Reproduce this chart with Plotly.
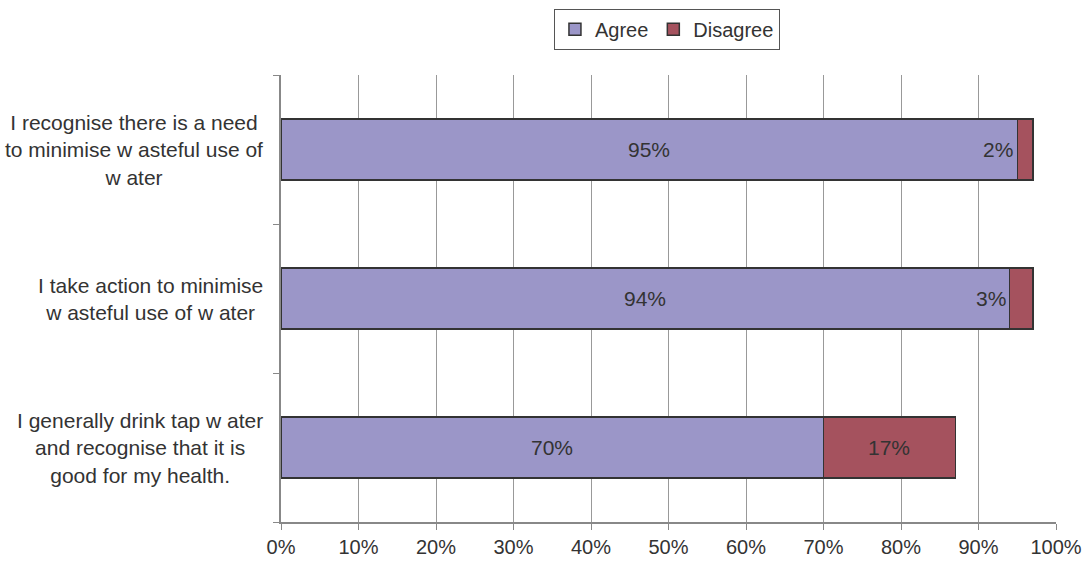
import plotly.graph_objects as go

# Survey statements (top to bottom) and response shares in percent
statements = [
    "I recognise there is a need<br>to minimise w asteful use of<br>w ater",
    "I take action to minimise<br>w asteful use of w ater",
    "I generally drink tap w ater<br>and recognise that it is<br>good for my health.",
]
agree = [95, 94, 70]
disagree = [2, 3, 17]
x_ticks = [0, 10, 20, 30, 40, 50, 60, 70, 80, 90, 100]
x_tick_labels = [f"{v}%" for v in x_ticks]

AGREE_COLOR = "#9B96C8"
DISAGREE_COLOR = "#A5525E"
EDGE = "#333333"
FONT = "Liberation Sans, Arial, sans-serif"
TEXT_COLOR = "#333333"

pos = list(range(len(statements)))

fig = go.Figure()
fig.add_trace(go.Bar(
    name="Agree", y=pos, x=agree, orientation="h", width=0.41,
    marker=dict(color=AGREE_COLOR, line=dict(color=EDGE, width=1.5)),
))
fig.add_trace(go.Bar(
    name="Disagree", y=pos, x=disagree, orientation="h", width=0.41,
    marker=dict(color=DISAGREE_COLOR, line=dict(color=EDGE, width=1.5)),
))

label_font = dict(size=21, color=TEXT_COLOR, family=FONT)

# Value labels centred in each segment; narrow ones sit just left of it
for i, (a, d) in enumerate(zip(agree, disagree)):
    fig.add_annotation(x=a / 2, y=i, text=f"{a}%", showarrow=False, font=label_font)
    if d >= 8:
        fig.add_annotation(x=a + d / 2, y=i, text=f"{d}%", showarrow=False,
                           font=label_font)
    else:
        fig.add_annotation(x=a, y=i, text=f"{d}%", showarrow=False,
                           xanchor="right", xshift=-2, font=label_font)

# Category labels, centred per line, right-aligned to the axis
for i, s in enumerate(statements):
    fig.add_annotation(x=-0.021, xref="paper", y=i, yref="y", text=s,
                       showarrow=False, xanchor="right", align="center",
                       font=dict(size=21, color=TEXT_COLOR, family=FONT))

fig.update_layout(
    barmode="stack",
    width=1092, height=563,
    margin=dict(l=281, r=36, t=75, b=41, autoexpand=False),
    paper_bgcolor="white", plot_bgcolor="white",
    font=dict(family=FONT, size=20, color=TEXT_COLOR),
    legend=dict(
        orientation="h", traceorder="normal",
        x=0.498, xanchor="center", y=1.148, yanchor="top",
        bordercolor="#555555", borderwidth=1,
        font=dict(size=20, color=TEXT_COLOR, family=FONT),
        itemwidth=30,
    ),
    xaxis=dict(
        range=[0, 100], tickvals=x_ticks, ticktext=x_tick_labels,
        showgrid=True, gridcolor="#999999", gridwidth=1,
        showline=True, linecolor="#888888", linewidth=1.5,
        ticks="outside", ticklen=6, tickcolor="#888888",
        zeroline=False, fixedrange=True, automargin=False,
        tickfont=dict(size=20, color=TEXT_COLOR),
    ),
    yaxis=dict(
        range=[2.5, -0.5], tickvals=[-0.5, 0.5, 1.5, 2.5],
        showticklabels=False, showgrid=False, zeroline=False,
        showline=True, linecolor="#888888", linewidth=1.5,
        ticks="outside", ticklen=6, tickcolor="#888888", automargin=False,
    ),
)

fig.write_html("out.html")
